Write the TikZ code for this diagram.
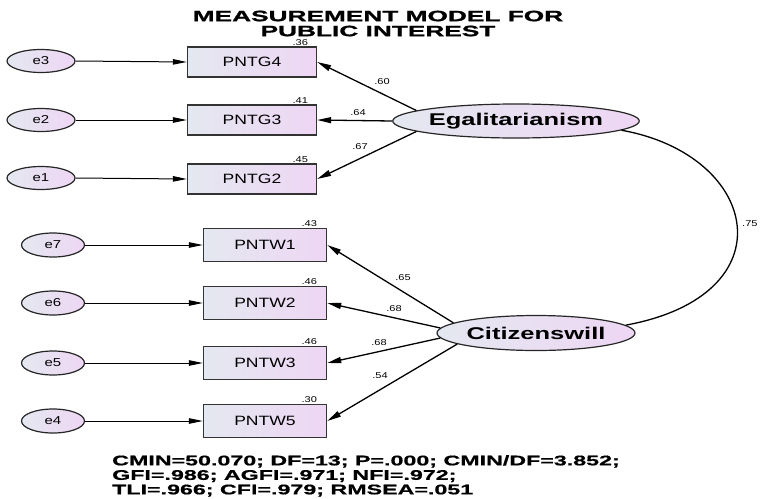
\documentclass[tikz,border=0pt]{standalone}
\usepackage{fontspec}
\setmainfont{Liberation Sans}
\newfontfamily\titleface[FakeStretch=1.75,FakeBold=1.2]{Liberation Sans}
\newfontfamily\fitface[FakeStretch=1.66,FakeBold=0.8]{Liberation Sans}
\newfontfamily\latface[FakeStretch=1.5]{Liberation Sans}
\newfontfamily\obsface[FakeStretch=1.3]{Liberation Sans}
\usetikzlibrary{shapes}
\usetikzlibrary{shapes.geometric}
\usetikzlibrary{positioning}
\usetikzlibrary{arrows.meta}
\definecolor{shadeL}{RGB}{228,232,240}
\definecolor{shadeR}{RGB}{238,214,244}
\tikzset{
    obsnode/.style = {rectangle, draw=black!80, line width=1.4pt, left color=shadeL, right color=shadeR, inner sep=0pt, font=\obsface\fontsize{13.5}{13.5}\selectfont},
    obsg/.style = {obsnode, minimum width=129pt, minimum height=30pt},
    obsw/.style = {obsnode, minimum width=123pt, minimum height=33pt},
    errnode/.style = {ellipse, draw=black!85, line width=1.2pt, left color=shadeL, right color=shadeR, inner sep=0pt, minimum width=66pt, minimum height=24pt, font=\obsface\fontsize{11.5}{11.5}\selectfont},
    latnode/.style = {ellipse, draw=black!85, line width=1.2pt, left color=shadeL, right color=shadeR, inner sep=0pt, font=\latface\bfseries\fontsize{17}{17}\selectfont},
    numlbl/.style = {inner sep=1pt, font=\obsface\fontsize{8.5}{8.5}\selectfont},
    varlbl/.style = {numlbl, anchor=south east},
    edgen/.style = {-{Triangle[length=14pt,width=5.5pt]}, line width=1pt},
    edgef/.style = {-{Triangle[length=14pt,width=6pt]}, line width=1.3pt},
    edgec/.style = {line width=1.3pt}
}

\begin{document}
\begin{tikzpicture}[x=1pt, y=-1pt]
  \useasboundingbox (0,0) rectangle (760,498);

  % title
  \node[anchor=north, inner sep=0pt, align=center, font=\titleface\bfseries\fontsize{15}{15}\selectfont] (title) at (378,10.5)
    {MEASUREMENT MODEL FOR\\PUBLIC INTEREST};

  % latent factors
  \node[latnode, minimum width=205pt, minimum height=34pt] (egal) at (516,121) {Egalitarianism};
  \node[latnode, minimum width=198pt, minimum height=35pt] (citz) at (536,333) {Citizenswill};

  % indicators
  \node[obsg] (pntg4) at (252,62) {PNTG4};
  \node[obsg] (pntg3) at (252,120) {PNTG3};
  \node[obsg] (pntg2) at (252,179) {PNTG2};
  \node[obsw] (pntw1) at (265,245) {PNTW1};
  \node[obsw] (pntw2) at (265,303) {PNTW2};
  \node[obsw] (pntw3) at (265,363) {PNTW3};
  \node[obsw] (pntw5) at (265,421) {PNTW5};

  % errors
  \node[errnode, minimum width=68pt, minimum height=23pt] (e3) at (41,61) {e3};
  \node[errnode, minimum width=68pt, minimum height=23pt] (e2) at (41,120) {e2};
  \node[errnode, minimum width=68pt, minimum height=23pt] (e1) at (41,178) {e1};
  \node[errnode, minimum width=63pt] (e7) at (53,245) {e7};
  \node[errnode, minimum width=63pt] (e6) at (53,303) {e6};
  \node[errnode, minimum width=63pt] (e5) at (53,363) {e5};
  \node[errnode, minimum width=63pt] (e4) at (53,421) {e4};

  % squared multiple correlations
  \node[varlbl] (v4) at ([xshift=-8pt]pntg4.north east) {.36};
  \node[varlbl] (v3) at ([xshift=-8pt]pntg3.north east) {.41};
  \node[varlbl] (v2) at ([xshift=-8pt]pntg2.north east) {.45};
  \node[varlbl] (w1) at ([xshift=-9pt]pntw1.north east) {.43};
  \node[varlbl] (w2) at ([xshift=-9pt]pntw2.north east) {.46};
  \node[varlbl] (w3) at ([xshift=-9pt]pntw3.north east) {.46};
  \node[varlbl] (w5) at ([xshift=-9pt]pntw5.north east) {.30};

  % error paths
  \draw[edgen] (e3.east) -- (pntg4.west);
  \draw[edgen] (e2.east) -- (pntg3.west);
  \draw[edgen] (e1.east) -- (pntg2.west);
  \draw[edgen] (e7.east) -- (pntw1.west);
  \draw[edgen] (e6.east) -- (pntw2.west);
  \draw[edgen] (e5.east) -- (pntw3.west);
  \draw[edgen] (e4.east) -- (pntw5.west);

  % loadings
  \draw[edgef] (egal.174) -- (pntg4.east);
  \draw[edgef] (egal.west) -- (pntg3.east);
  \draw[edgef] (egal.186) -- (pntg2.east);
  \draw[edgef] (citz.173) -- (pntw1.east);
  \draw[edgef] (citz.177) -- (pntw2.east);
  \draw[edgef] (citz.183) -- (pntw3.east);
  \draw[edgef] (citz.188) -- (pntw5.east);

  \node[numlbl] (l60) at (382,82) {.60};
  \node[numlbl] (l64) at (358,113) {.64};
  \node[numlbl] (l67) at (360,147) {.67};
  \node[numlbl] (l65) at (403,278) {.65};
  \node[numlbl] (l68a) at (394,309) {.68};
  \node[numlbl] (l68b) at (379,343) {.68};
  \node[numlbl] (l54) at (380,376) {.54};

  % covariance
  \draw[edgec] (egal.-5) .. controls (760,155) and (790,295) .. (citz.5);
  \node[numlbl, anchor=west] (l75) at (741,224) {.75};

  % fit indices
  \node[anchor=north west, inner sep=0pt, align=left, font=\fitface\bfseries\fontsize{14}{14.5}\selectfont] (fit) at (112,455)
    {CMIN=50.070; DF=13; P=.000; CMIN/DF=3.852;\\GFI=.986; AGFI=.971; NFI=.972;\\TLI=.966; CFI=.979; RMSEA=.051};

\end{tikzpicture}
\end{document}
